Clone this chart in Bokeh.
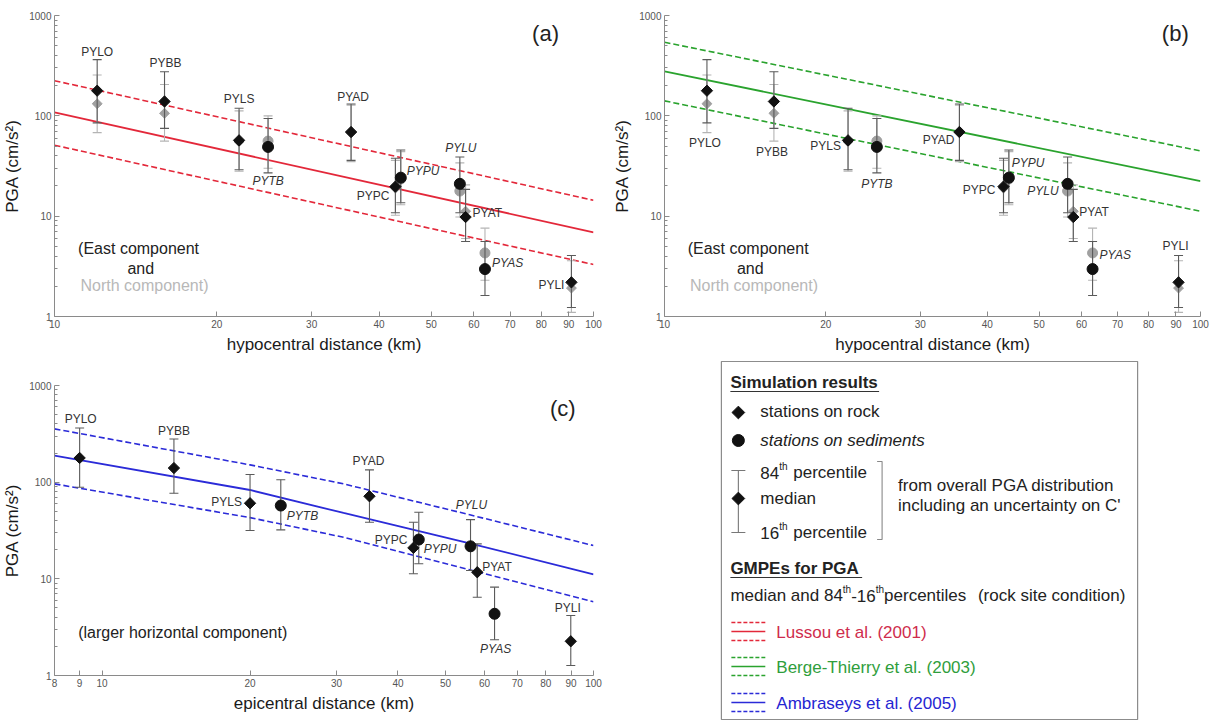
import math
from bokeh.plotting import figure
from bokeh.layouts import row, column
from bokeh.models import Range1d, FixedTicker, BasicTickFormatter
from bokeh.core.properties import value
from bokeh.embed import file_html
from bokeh.resources import INLINE

FONT = "Liberation Sans"

# ---------------- data ----------------
stations = ["PYLO", "PYBB", "PYLS", "PYTB", "PYAD", "PYPC", "PYPU", "PYLU", "PYAT", "PYAS", "PYLI"]
site = ["rock", "rock", "rock", "sed", "rock", "rock", "sed", "sed", "rock", "sed", "rock"]

hypo_dist = [12.0, 16.0, 22.0, 24.9, 35.5, 42.9, 43.9, 56.5, 57.9, 62.9, 91.0]
epi_dist = [9.0, 14.0, 20.0, 23.1, 35.0, 43.0, 44.1, 56.2, 58.0, 62.9, 89.9]

east_med = [178, 139, 57, 49, 69, 19.7, 24.2, 21.0, 9.8, 2.97, 2.19]
east_p84 = [363, 275, 119, 94, 131, 37.8, 45.7, 38.9, 18.5, 5.6, 4.05]
east_p16 = [85, 75, 29, 27, 36, 10.8, 13.6, 10.8, 5.6, 1.62, 1.23]

north_med = [132, 106, 55, 56, 68, 19.0, 23.5, 17.8, 11.2, 4.3, 1.92]
north_p84 = [255, 205, 112, 100, 128, 36, 44, 34, 20.5, 7.6, 3.6]
north_p16 = [68, 56, 28, 30, 35, 10.2, 13.0, 9.8, 6.0, 2.3, 1.1]

larger_med = [178, 140, 60.5, 57.3, 71.5, 20.9, 25.5, 21.7, 11.7, 4.35, 2.26]
larger_p84 = [364, 280, 120, 106, 134, 38.5, 48.8, 41.0, 23.0, 8.2, 4.17]
larger_p16 = [88.6, 76.8, 31.6, 32.1, 38.5, 11.3, 14.3, 12.2, 6.45, 2.34, 1.27]

lussou_d = [10, 100]
lussou_med = [108, 6.9]
lussou_p84 = [224, 14.4]
lussou_p16 = [51, 3.3]

berge_d = [10, 100]
berge_med = [277, 22.4]
berge_p84 = [541, 44.7]
berge_p16 = [141, 11.2]

ambr_d = [8, 20, 31, 56, 100]
ambr_med = [188, 83, 48, 23.3, 11.1]
ambr_p84 = [356, 151, 96, 46, 22.1]
ambr_p16 = [96, 43, 26.9, 12.4, 5.8]

hypo_ticks = [10, 20, 30, 40, 50, 60, 70, 80, 90, 100]
epi_ticks = [8, 9, 10, 20, 30, 40, 50, 60, 70, 80, 90, 100]
pga_ticks = [1, 10, 100, 1000]

# ---------------- styles ----------------
RED, RED_T = "#e3283a", "#cf2c4c"
GREEN, GREEN_T = "#2aa32e", "#2f9e3c"
BLUE, BLUE_T = "#2b2bd8", "#2525d2"
AXIS_C = "#8a8a8a"
BLACK = "#111111"
BAR_BLACK = "#5a5a5a"
GREY = "#a0a0a0"
BAR_GREY = "#b4b4b4"
DIAMOND_ANGLE = math.pi / 4

# label placement (align, dx px, dy px) per panel
A_LABELS = [("center", 0, -39), ("center", 1, -38), ("center", 0, -41), ("center", 0, 34),
            ("center", 2, -35), ("right", -6, 9), ("left", 6, -7), ("center", 1, -36),
            ("left", 7, -4), ("left", 7, -6), ("right", -7, 3)]
B_LABELS = [("center", -2, 52), ("center", -2, 51), ("right", -7, 6), ("center", 0, 37),
            ("right", -5, 8), ("right", -8, 3), ("left", 3, -15), ("right", -9, 7),
            ("left", 6, -5), ("left", 7, -14), ("center", -3, -36)]
C_LABELS = [("center", 1, -39), ("center", 0, -37), ("right", -8, -1), ("left", 6, 10),
            ("center", -1, -35), ("right", -6, -8), ("left", 5, 9), ("center", 1, -41),
            ("left", 5, -5), ("center", 1, 35), ("center", -3, -33)]

YR = (1, 1000)
Y_MINOR = [m * 10 ** e for e in range(0, 3) for m in range(2, 10)]


def frac(fx, fy, xr, yr):
    """position given as fraction of frame width (from left) / height (from top), log axes"""
    return xr[0] * (xr[1] / xr[0]) ** fx, yr[1] * (yr[0] / yr[1]) ** fy


def panel(width, height, borders, xr, xticks, xlabel):
    l, r, t, b = borders
    p = figure(width=width, height=height, x_axis_type="log", y_axis_type="log",
               x_range=Range1d(*xr), y_range=Range1d(*YR), output_backend="svg",
               toolbar_location=None, min_border_left=l, min_border_right=r,
               min_border_top=t, min_border_bottom=b, background_fill_color="white",
               border_fill_color="white")
    p.outline_line_color = None
    p.xgrid.visible = False
    p.ygrid.visible = False
    p.xaxis.ticker = FixedTicker(ticks=xticks)
    p.yaxis.ticker = FixedTicker(ticks=pga_ticks, minor_ticks=Y_MINOR)
    p.xaxis.formatter = BasicTickFormatter()
    p.yaxis.formatter = BasicTickFormatter()
    for ax in (p.xaxis, p.yaxis):
        ax.axis_line_color = AXIS_C
        ax.major_tick_line_color = AXIS_C
        ax.minor_tick_line_color = AXIS_C
        ax.major_tick_in = 5
        ax.major_tick_out = 0
        ax.minor_tick_in = 3
        ax.minor_tick_out = 0
        ax.major_label_text_font = FONT
        ax.major_label_text_font_size = "10px"
        ax.major_label_text_color = "#555555"
        ax.major_label_standoff = 3
        ax.axis_label_text_font = FONT
        ax.axis_label_text_font_size = "17px"
        ax.axis_label_text_font_style = "normal"
        ax.axis_label_text_color = "#1a1a1a"
        ax.axis_label_standoff = 4
    p.xaxis.axis_label = xlabel
    p.yaxis.axis_label = "PGA (cm/s²)"
    return p


def gmpe(p, d, med, p84, p16, color):
    p.line(d, p84, line_color=color, line_width=1.6, line_dash="6 3")
    p.line(d, p16, line_color=color, line_width=1.6, line_dash="6 3")
    p.line(d, med, line_color=color, line_width=1.8)


def series(p, dist, med, p84, p16, bar_c, mk_c, diam=8, circ=11):
    p.segment(x0=dist, y0=p16, x1=dist, y1=p84, line_color=bar_c, line_width=1.1)
    p.scatter(dist, p84, marker="dash", size=9, line_color=bar_c, line_width=1.1)
    p.scatter(dist, p16, marker="dash", size=9, line_color=bar_c, line_width=1.1)
    rk = [i for i, s in enumerate(site) if s == "rock"]
    sd = [i for i, s in enumerate(site) if s == "sed"]
    p.scatter([dist[i] for i in rk], [med[i] for i in rk], marker="square", angle=DIAMOND_ANGLE,
              size=diam, fill_color=mk_c, line_color=mk_c)
    p.scatter([dist[i] for i in sd], [med[i] for i in sd], marker="circle", size=circ,
              fill_color=mk_c, line_color=mk_c)


def labels(p, dist, med, offsets):
    for i, name in enumerate(stations):
        align, dx, dy = offsets[i]
        p.text(x=[dist[i]], y=[med[i]], text=[name], x_offset=dx, y_offset=dy,
               text_align=align, text_baseline="middle", text_font=value(FONT),
               text_font_size="12px", text_color="#333333",
               text_font_style="italic" if site[i] == "sed" else "normal")


def ptext(p, fx, fy, xr, s, size="16px", color="#222222", align="center", style="normal"):
    x, y = frac(fx, fy, xr, YR)
    p.text(x=[x], y=[y], text=[s], text_align=align, text_baseline="middle",
           text_font=value(FONT), text_font_size=size, text_color=color,
           text_font_style=style)


# ---------------- panel (a) ----------------
XR_H = (10, 100)
pa = panel(610, 360, (53, 17, 15, 44), XR_H, hypo_ticks, "hypocentral distance (km)")
gmpe(pa, lussou_d, lussou_med, lussou_p84, lussou_p16, RED)
series(pa, hypo_dist, north_med, north_p84, north_p16, BAR_GREY, GREY, 7, 10)
series(pa, hypo_dist, east_med, east_p84, east_p16, BAR_BLACK, BLACK)
labels(pa, hypo_dist, east_med, A_LABELS)
ptext(pa, 0.156, 0.775, XR_H, "(East component")
ptext(pa, 0.160, 0.840, XR_H, "and")
ptext(pa, 0.167, 0.897, XR_H, "North component)", color="#b8b8b8")
ptext(pa, 0.911, 0.060, XR_H, "(a)", size="22px")

# ---------------- panel (b) ----------------
pb = panel(608, 360, (53, 18, 15, 44), XR_H, hypo_ticks, "hypocentral distance (km)")
gmpe(pb, berge_d, berge_med, berge_p84, berge_p16, GREEN)
series(pb, hypo_dist, north_med, north_p84, north_p16, BAR_GREY, GREY, 7, 10)
series(pb, hypo_dist, east_med, east_p84, east_p16, BAR_BLACK, BLACK)
labels(pb, hypo_dist, east_med, B_LABELS)
ptext(pb, 0.156, 0.775, XR_H, "(East component")
ptext(pb, 0.160, 0.840, XR_H, "and")
ptext(pb, 0.167, 0.897, XR_H, "North component)", color="#b8b8b8")
ptext(pb, 0.953, 0.060, XR_H, "(b)", size="22px")

# ---------------- panel (c) ----------------
XR_E = (8, 100)
pc = panel(610, 361, (53, 17, 25, 46), XR_E, epi_ticks, "epicentral distance (km)")
gmpe(pc, ambr_d, ambr_med, ambr_p84, ambr_p16, BLUE)
series(pc, epi_dist, larger_med, larger_p84, larger_p16, BAR_BLACK, BLACK)
labels(pc, epi_dist, larger_med, C_LABELS)
ptext(pc, 0.044, 0.852, XR_E, "(larger horizontal component)", align="left")
ptext(pc, 0.943, 0.079, XR_E, "(c)", size="22px")

# ---------------- legend panel ----------------
LW, LH = 537, 361
lg = figure(width=608, height=LH, x_range=Range1d(0, LW), y_range=Range1d(LH, 0),
            output_backend="svg", toolbar_location=None, min_border_left=53,
            min_border_right=18, min_border_top=0, min_border_bottom=0,
            x_axis_location=None, y_axis_location=None)
lg.grid.visible = False
lg.outline_line_color = None
lg.quad(left=57, right=474, top=1, bottom=359, fill_color=None, line_color="#8c8c8c", line_width=1.2)


def lt(x, y, s, size=17, color="#222222", style="normal"):
    lg.text(x=[x], y=[y], text=[s], text_align="left", text_baseline="middle",
            text_font=value(FONT), text_font_size=f"{size}px", text_color=color,
            text_font_style=style)


lt(66, 22, "Simulation results", size=17, style="bold")
lg.segment(x0=66, y0=31, x1=215, y1=31, line_color="#333333", line_width=1.2)
lg.scatter([74], [52], marker="square", angle=DIAMOND_ANGLE, size=9, fill_color=BLACK, line_color=BLACK)
lt(96, 51, "stations on rock")
lg.scatter([74], [80], marker="circle", size=12, fill_color=BLACK, line_color=BLACK)
lt(96, 80, "stations on sediments", style="italic")
lg.segment(x0=74, y0=110, x1=74, y1=172, line_color="#777777", line_width=1.1)
lg.scatter([74, 74], [110, 172], marker="dash", size=14, line_color="#777777", line_width=1.1)
lg.scatter([74], [138], marker="square", angle=DIAMOND_ANGLE, size=9, fill_color=BLACK, line_color=BLACK)
lt(96, 112, "84")
lt(115, 106, "th", size=10)
lt(129, 112, "percentile")
lt(96, 138, "median")
lt(96, 172, "16")
lt(115, 166, "th", size=10)
lt(129, 172, "percentile")
lg.line([213, 218, 218, 213], [101, 101, 179, 179], line_color="#888888", line_width=1.1)
lt(234, 125, "from overall PGA distribution")
lt(234, 145, "including an uncertainty on C'")

lt(66, 208, "GMPEs for PGA", size=17, style="bold")
lg.segment(x0=66, y0=217, x1=198, y1=217, line_color="#333333", line_width=1.2)
lt(66, 235, "median and 84")
lt(178.5, 229, "th", size=10)
lt(187, 235, "-16")
lt(211.6, 229, "th", size=10)
lt(220, 235, "percentiles")
lt(314, 235, "(rock site condition)")

for (yc, col, tcol, name) in [(271, RED, RED_T, "Lussou et al. (2001)"),
                              (306, GREEN, GREEN_T, "Berge-Thierry et al. (2003)"),
                              (342, BLUE, BLUE_T, "Ambraseys et al. (2005)")]:
    lg.line([67, 101], [yc - 9, yc - 9], line_color=col, line_width=1.5, line_dash="4 2")
    lg.line([67, 101], [yc, yc], line_color=col, line_width=1.6)
    lg.line([67, 101], [yc + 9, yc + 9], line_color=col, line_width=1.5, line_dash="4 2")
    lt(112, yc + 1, name, color=tcol)

layout = row(column(pa, pc, spacing=0), column(pb, lg, spacing=0), spacing=0)

with open("out.html", "w") as f:
    f.write(file_html(layout, INLINE))
